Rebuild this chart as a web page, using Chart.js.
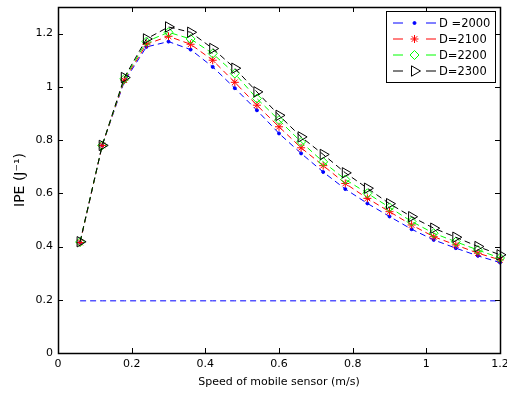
<!DOCTYPE html>
<html>
<head>
<meta charset="utf-8">
<script src="https://cdn.jsdelivr.net/npm/chart.js@4/dist/chart.umd.min.js"></script>
<style>body{margin:0;background:#fff}</style>
</head>
<body>
<canvas id="c" width="507" height="395"></canvas>
<script>
const speeds = [0.06, 0.12, 0.18, 0.24, 0.30, 0.36, 0.42, 0.48, 0.54, 0.60, 0.66, 0.72, 0.78, 0.84, 0.90, 0.96, 1.02, 1.08, 1.14, 1.20];
const d2000 = [0.415, 0.78, 1.02, 1.15, 1.17, 1.14, 1.075, 0.995, 0.912, 0.825, 0.75, 0.68, 0.616, 0.562, 0.513, 0.465, 0.425, 0.394, 0.365, 0.34];
const d2100 = [0.415, 0.78, 1.025, 1.16, 1.19, 1.16, 1.10, 1.017, 0.931, 0.85, 0.771, 0.704, 0.637, 0.581, 0.531, 0.481, 0.437, 0.406, 0.375, 0.35];
const d2200 = [0.417, 0.78, 1.03, 1.17, 1.205, 1.18, 1.125, 1.05, 0.956, 0.875, 0.793, 0.718, 0.652, 0.60, 0.547, 0.494, 0.45, 0.418, 0.387, 0.357];
const d2300 = [0.418, 0.78, 1.035, 1.18, 1.225, 1.205, 1.144, 1.07, 0.981, 0.893, 0.812, 0.746, 0.677, 0.619, 0.561, 0.512, 0.469, 0.435, 0.40, 0.369];
const baseline = [0.196, 0.196, 0.196, 0.196, 0.196, 0.196, 0.196, 0.196, 0.196, 0.196, 0.196, 0.196, 0.196, 0.196, 0.196, 0.196, 0.196, 0.196, 0.196, 0.196];
const seriesLabels = ['D =2000', 'D=2100', 'D=2200', 'D=2300'];
const xTicks = [0, 0.2, 0.4, 0.6, 0.8, 1.0, 1.2];
const xTickLabels = ['0', '0.2', '0.4', '0.6', '0.8', '1', '1.2'];
const yTicks = [0, 0.2, 0.4, 0.6, 0.8, 1.0, 1.2];
const yTickLabels = ['0', '0.2', '0.4', '0.6', '0.8', '1', '1.2'];

const FAMILY = "'DejaVu Sans', sans-serif";
const font = { family: FAMILY, size: 11 };
const pts = arr => speeds.map((x, i) => ({ x, y: arr[i] }));

const styles = [
  { color: '#0000ff', pointStyle: 'circle', radius: 1.5, fill: '#0000ff', rot: 0 },
  { color: '#ff0000', pointStyle: 'star', radius: 4, fill: 'rgba(0,0,0,0)', rot: 0 },
  { color: '#00ff00', pointStyle: 'rectRot', radius: 4.5, fill: 'rgba(0,0,0,0)', rot: 0 },
  { color: '#000000', pointStyle: 'triangle', radius: 6, fill: 'rgba(0,0,0,0)', rot: 90 },
];

const datasets = [d2000, d2100, d2200, d2300].map((arr, i) => ({
  label: seriesLabels[i],
  data: pts(arr),
  borderColor: styles[i].color,
  backgroundColor: styles[i].fill,
  borderWidth: 1,
  borderDash: [6, 4],
  pointStyle: styles[i].pointStyle,
  pointRadius: styles[i].radius,
  pointRotation: styles[i].rot,
  pointBorderColor: styles[i].color,
  pointBackgroundColor: styles[i].fill,
  pointBorderWidth: 1,
  order: 4 - i,
  clip: false,
}));
datasets.push({
  label: 'baseline',
  data: pts(baseline),
  borderColor: '#0000ff',
  borderWidth: 1,
  borderDash: [6, 4],
  pointRadius: 0,
  order: 5,
});

// MATLAB-like box, inward ticks and legend
const matlabAxes = {
  id: 'matlabAxes',
  afterDatasetsDraw(chart) {
    const { ctx, chartArea: a, scales: { x, y } } = chart;
    ctx.save();
    ctx.strokeStyle = '#000';
    ctx.lineWidth = 1;
    ctx.setLineDash([]);
    ctx.beginPath();
    xTicks.forEach(v => {
      const px = Math.round(x.getPixelForValue(v)) + 0.5;
      ctx.moveTo(px, a.bottom); ctx.lineTo(px, a.bottom - 5);
      ctx.moveTo(px, a.top); ctx.lineTo(px, a.top + 5);
    });
    yTicks.forEach(v => {
      const py = Math.round(y.getPixelForValue(v)) + 0.5;
      ctx.moveTo(a.left, py); ctx.lineTo(a.left + 5, py);
      ctx.moveTo(a.right, py); ctx.lineTo(a.right - 5, py);
    });
    ctx.stroke();
    ctx.lineWidth = 1.5;
    ctx.strokeRect(Math.round(a.left) + 0.5, Math.round(a.top) + 0.5, Math.round(a.right - a.left), Math.round(a.bottom - a.top));

    // legend
    const lx = 386.5, ly = 11.5, lw = 109, lh = 71;
    ctx.fillStyle = '#fff';
    ctx.fillRect(lx, ly, lw, lh);
    ctx.lineWidth = 1;
    ctx.strokeStyle = '#000';
    ctx.strokeRect(lx, ly, lw, lh);
    ctx.font = "11.5px " + FAMILY;
    ctx.textBaseline = 'middle';
    seriesLabels.forEach((lab, i) => {
      const yy = 23 + i * 16;
      const s = styles[i];
      ctx.strokeStyle = s.color;
      ctx.lineWidth = 1;
      ctx.setLineDash([]);
      ctx.beginPath();
      ctx.moveTo(393, yy); ctx.lineTo(403, yy);
      ctx.moveTo(426, yy); ctx.lineTo(436, yy);
      ctx.stroke();
      ctx.fillStyle = s.fill;
      Chart.helpers.drawPoint(ctx, {
        pointStyle: s.pointStyle, radius: s.radius, rotation: s.rot, borderWidth: 1,
      }, 414.5, yy);
      ctx.fillStyle = '#000';
      ctx.fillText(lab, 439, yy + 1);
    });
    ctx.restore();
  }
};

new Chart(document.getElementById('c'), {
  type: 'line',
  data: { datasets },
  plugins: [matlabAxes],
  options: {
    responsive: false,
    animation: false,
    layout: { padding: { top: 6, right: 5, left: 0, bottom: 0 } },
    plugins: { legend: { display: false }, tooltip: { enabled: false } },
    scales: {
      x: {
        type: 'linear', min: 0, max: 1.2,
        grid: { display: false, drawTicks: false },
        border: { display: false },
        afterBuildTicks: s => { s.ticks = xTicks.map(v => ({ value: v })); },
        afterFit: s => { s.height = 42; s.paddingLeft = 0; s.paddingRight = 0; },
        ticks: { font, color: '#000', padding: 5, maxRotation: 0, autoSkip: false, callback: (v, i) => xTickLabels[i] },
        title: { display: true, text: 'Speed of mobile sensor (m/s)', font, color: '#000', padding: { top: 0, bottom: 6 } },
      },
      y: {
        type: 'linear', min: 0, max: 1.3,
        grid: { display: false, drawTicks: false },
        border: { display: false },
        afterBuildTicks: s => { s.ticks = yTicks.map(v => ({ value: v })); },
        afterFit: s => { s.width = 58; s.paddingTop = 0; s.paddingBottom = 0; },
        ticks: { font, color: '#000', padding: 5, autoSkip: false, callback: (v, i) => yTickLabels[i] },
        title: { display: true, text: 'IPE (J\u207B\u00B9)', font: { family: FAMILY, size: 14 }, color: '#000', padding: { top: 12, bottom: 0 } },
      },
    },
  },
});
</script>
</body>
</html>
